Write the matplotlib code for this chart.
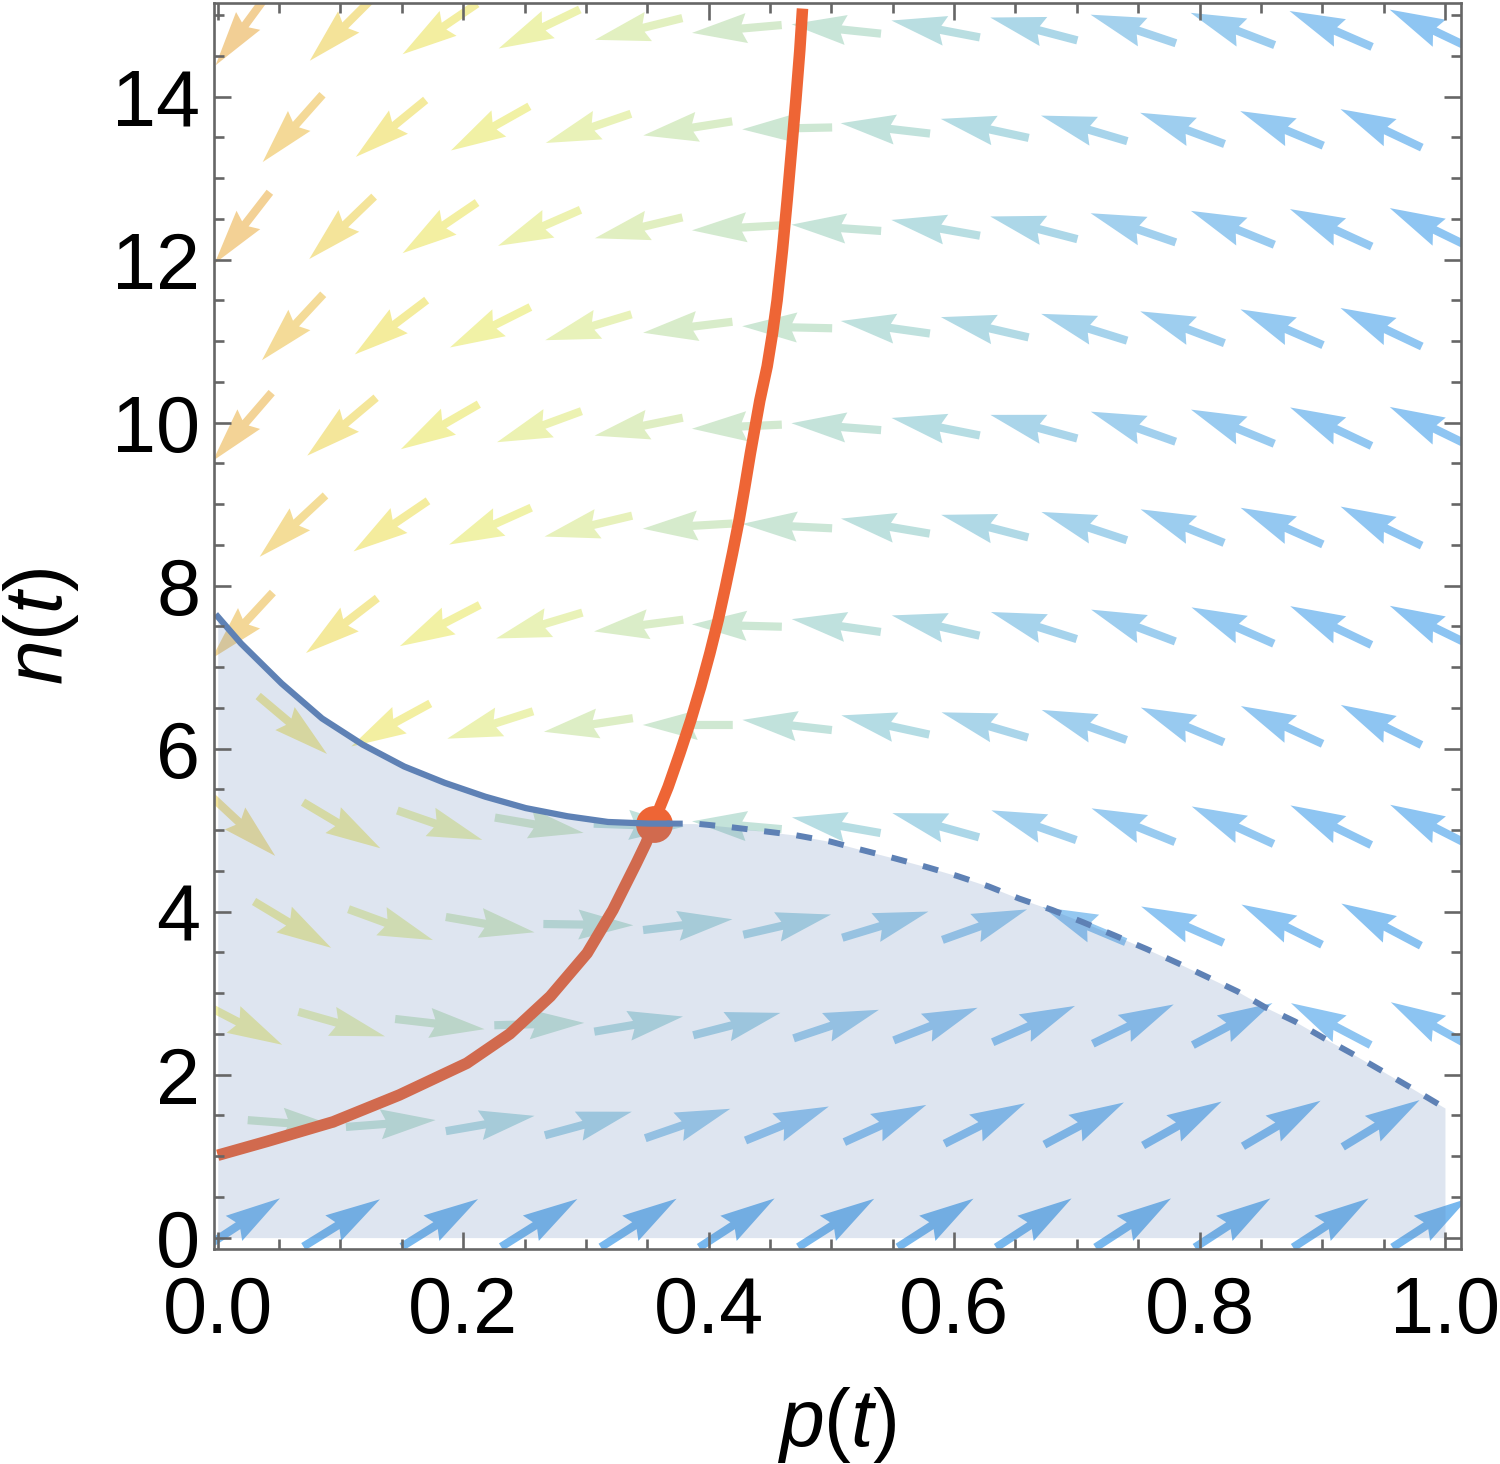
import numpy as np
import matplotlib
matplotlib.use("Agg")
import matplotlib.pyplot as plt
from matplotlib.colors import LinearSegmentedColormap

plt.rcParams['font.family'] = ['Liberation Sans', 'DejaVu Sans']
plt.rcParams['mathtext.fontset'] = 'custom'
plt.rcParams['mathtext.it'] = 'Liberation Sans:italic'
plt.rcParams['mathtext.rm'] = 'Liberation Sans'

# arrow grid (staggered rows)
n_rows = [0.18, 1.40, 2.62, 3.84, 5.06, 6.29, 7.51, 8.73, 9.95, 11.17, 12.39, 13.61, 14.83]
p_even = [0.020, 0.101, 0.181, 0.262, 0.343, 0.423, 0.504, 0.585, 0.665, 0.746, 0.827, 0.907, 0.988]
p_odd = [0.061, 0.141, 0.222, 0.302, 0.383, 0.464, 0.544, 0.625, 0.706, 0.786, 0.867, 0.948]

# arrow directions on screen (degrees), bottom row first
arrow_deg = [
    [33.2, 31.7, 32.0, 32.1, 32.6, 33.0, 32.5, 32.7, 33.0, 33.0, 33.0, 33.0, 33.0],
    [355.7, 4.4, 9.8, 15.2, 19.1, 22.2, 24.4, 26.7, 27.9, 29.2, 30.4, 31.3],
    [332.6, 344.2, 353.5, 1.5, 9.7, 14.4, 18.5, 21.3, 23.8, 25.9, 27.8, 152.3, 151.0],
    [329.0, 339.9, 350.2, 359.2, 6.9, 13.0, 16.9, 19.8, 157.2, 156.2, 153.5, 152.1],
    [317.0, 329.2, 340.9, 350.2, 358.0, 175.0, 170.0, 164.4, 160.7, 158.0, 155.4, 153.9, 153.0],
    [319.9, 208.6, 197.7, 188.7, 180.0, 173.5, 167.7, 163.7, 160.5, 157.3, 155.2, 153.6],
    [227.2, 217.6, 207.3, 196.7, 187.5, 178.5, 171.8, 167.0, 162.5, 159.3, 156.2, 154.5, 154.0],
    [223.0, 214.2, 204.2, 193.4, 183.3, 177.2, 170.4, 165.5, 161.7, 158.1, 156.0, 154.3],
    [229.2, 220.1, 210.0, 200.2, 191.5, 182.6, 175.6, 168.8, 164.8, 160.5, 157.7, 154.7, 154.0],
    [227.1, 217.1, 206.7, 196.7, 187.0, 178.7, 172.0, 167.0, 162.7, 159.3, 156.6, 154.7],
    [232.2, 223.9, 214.2, 203.6, 193.4, 183.2, 176.0, 169.9, 165.4, 161.1, 157.9, 155.4, 154.0],
    [228.4, 219.2, 209.4, 198.9, 189.0, 181.2, 173.4, 167.8, 163.5, 159.7, 157.4, 154.7],
    [233.7, 224.9, 214.2, 205.7, 194.0, 185.0, 174.0, 169.2, 165.3, 161.5, 159.0, 156.5, 154.5],
]

# arrow colour level (0 = blue ... 1 = orange), bottom row first
arrow_lev = [
    [0.02, 0.0, 0.0, 0.0, 0.0, 0.0, 0.0, 0.0, 0.0, 0.0, 0.0, 0.0, 0.0],
    [0.47, 0.40, 0.31, 0.25, 0.20, 0.14, 0.10, 0.08, 0.06, 0.05, 0.05, 0.05],
    [0.72, 0.62, 0.48, 0.40, 0.32, 0.25, 0.20, 0.15, 0.12, 0.10, 0.08, 0.10, 0.09],
    [0.74, 0.64, 0.52, 0.40, 0.32, 0.27, 0.22, 0.18, 0.13, 0.10, 0.09, 0.08],
    [0.85, 0.75, 0.65, 0.50, 0.36, 0.38, 0.30, 0.25, 0.20, 0.16, 0.13, 0.10, 0.09],
    [0.80, 0.75, 0.64, 0.54, 0.45, 0.36, 0.29, 0.24, 0.19, 0.15, 0.12, 0.10],
    [0.93, 0.82, 0.72, 0.61, 0.52, 0.43, 0.35, 0.28, 0.22, 0.18, 0.14, 0.11, 0.09],
    [0.90, 0.79, 0.69, 0.59, 0.50, 0.42, 0.34, 0.27, 0.22, 0.17, 0.13, 0.11],
    [0.96, 0.84, 0.74, 0.64, 0.55, 0.47, 0.38, 0.30, 0.24, 0.20, 0.16, 0.12, 0.10],
    [0.91, 0.80, 0.70, 0.60, 0.51, 0.43, 0.35, 0.28, 0.22, 0.18, 0.14, 0.11],
    [0.97, 0.85, 0.75, 0.65, 0.56, 0.48, 0.39, 0.31, 0.25, 0.20, 0.16, 0.13, 0.10],
    [0.92, 0.81, 0.71, 0.61, 0.52, 0.44, 0.36, 0.29, 0.23, 0.18, 0.14, 0.11],
    [0.98, 0.86, 0.76, 0.66, 0.57, 0.49, 0.40, 0.32, 0.25, 0.21, 0.17, 0.13, 0.10],
]

# red curve
red_p = [0.0, 0.040, 0.094, 0.148, 0.203, 0.238, 0.271, 0.301, 0.322, 0.333, 0.341, 0.349,
         0.3553, 0.360, 0.367, 0.3765, 0.3855, 0.3936, 0.401, 0.4078, 0.4138, 0.4195, 0.4249,
         0.4295, 0.434, 0.4385, 0.4417, 0.4477, 0.4521, 0.4558, 0.4602, 0.464, 0.4676,
         0.4711, 0.4743, 0.4765]
red_n = [1.01, 1.18, 1.42, 1.75, 2.14, 2.50, 2.96, 3.49, 4.02, 4.35, 4.59, 4.84,
         5.08, 5.27, 5.53, 5.94, 6.35, 6.76, 7.17, 7.58, 7.99, 8.40, 8.81,
         9.21, 9.62, 10.0, 10.27, 10.69, 11.10, 11.50, 12.12, 12.73, 13.35,
         13.96, 14.57, 15.08]

# blue curve, solid part
blue_p = [0.0, 0.019, 0.052, 0.085, 0.118, 0.152, 0.185, 0.218, 0.251, 0.285, 0.318, 0.351, 0.366]
blue_n = [7.62, 7.29, 6.80, 6.37, 6.05, 5.78, 5.58, 5.41, 5.27, 5.17, 5.10, 5.08, 5.08]
# blue curve, dashed part
dash_p = [0.366, 0.389, 0.416, 0.443, 0.470, 0.499, 0.524, 0.550, 0.577, 0.602, 0.628, 0.653,
          0.680, 0.705, 0.732, 0.757, 0.782, 0.806, 0.831, 0.853, 0.878, 0.901, 0.924, 0.947,
          0.971, 1.0]
dash_n = [5.08, 5.08, 5.04, 4.99, 4.94, 4.86, 4.76, 4.66, 4.55, 4.44, 4.31, 4.16,
          4.02, 3.87, 3.70, 3.54, 3.37, 3.20, 3.02, 2.83, 2.65, 2.45, 2.26, 2.06,
          1.85, 1.59]

eq_p, eq_n = 0.3553, 5.08

xticks = [0.0, 0.2, 0.4, 0.6, 0.8, 1.0]
xlabels = ['0.0', '0.2', '0.4', '0.6', '0.8', '1.0']
yticks = [0, 2, 4, 6, 8, 10, 12, 14]
ylabels = ['0', '2', '4', '6', '8', '10', '12', '14']

cmap = LinearSegmentedColormap.from_list('vec', [
    (0.00, '#78b8ee'), (0.10, '#8ec5f2'), (0.20, '#a2d0ee'), (0.30, '#b6dde3'),
    (0.40, '#c8e5d8'), (0.50, '#d6ebcc'), (0.60, '#e8f2ba'), (0.70, '#f1f2a6'),
    (0.80, '#f4ec9c'), (0.90, '#f4dd98'), (1.00, '#f2cc94')])

X, Y, A, C = [], [], [], []
for j, nv in enumerate(n_rows):
    cols = p_even if j % 2 == 0 else p_odd
    for k, pv in enumerate(cols):
        X.append(pv)
        Y.append(nv)
        A.append(arrow_deg[j][k])
        C.append(arrow_lev[j][k])
X = np.array(X); Y = np.array(Y); A = np.array(A); C = np.array(C)

fig = plt.figure(figsize=(15, 14.64), dpi=100)
ax = fig.add_axes([0.1427, 0.1469, 0.8310, 0.8513])

L = 90.0
ax.quiver(X, Y, np.full_like(X, L), np.zeros_like(X), C, cmap=cmap, clim=(0, 1),
          angles=A, pivot='middle', units='dots', scale_units='dots', scale=1,
          width=8.2, headwidth=3.66, headlength=6.7, headaxislength=6.1,
          linewidth=0, zorder=1)

red = '#ee6535'
blue = '#5e81b5'
ax.plot(red_p, red_n, color=red, lw=8.3, solid_capstyle='butt', solid_joinstyle='round', zorder=2)
ax.plot([eq_p], [eq_n], 'o', color=red, ms=26.5, mew=0, zorder=2.5)

fp = blue_p + dash_p[1:]
fn = blue_n + dash_n[1:]
ax.fill_between(fp, 0, fn, color=blue, alpha=0.2, lw=0, zorder=3)

ax.plot(blue_p, blue_n, color=blue, lw=4.5, solid_joinstyle='round', zorder=4)
ax.plot(dash_p, dash_n, color=blue, lw=4.3, ls=(0, (2.65, 2.8)), zorder=4)

ax.set_xlim(-0.003, 1.0127)
ax.set_ylim(-0.139, 15.153)
ax.set_xticks(xticks, xlabels)
ax.set_yticks(yticks, ylabels)
ax.set_xticks(np.arange(0, 1.0001, 0.05), minor=True)
ax.set_yticks(np.arange(0, 15.01, 0.5), minor=True)

gray = '#666666'
for sp in ax.spines.values():
    sp.set_color(gray)
    sp.set_linewidth(1.9)
    sp.set_zorder(6)
ax.tick_params(which='both', direction='in', top=True, right=True, color=gray, width=1.9,
               labelsize=57, labelcolor='black')
ax.tick_params(which='major', length=12)
ax.tick_params(which='minor', length=7)
ax.tick_params(axis='x', pad=19)
ax.tick_params(axis='y', pad=10)
ax.xaxis.set_zorder(6)
ax.yaxis.set_zorder(6)

ax.set_xlabel(r'$p(t)$', fontsize=58, labelpad=25)
ax.set_ylabel(r'$n(t)$', fontsize=58, labelpad=22)

fig.savefig('out.png', dpi=100)
